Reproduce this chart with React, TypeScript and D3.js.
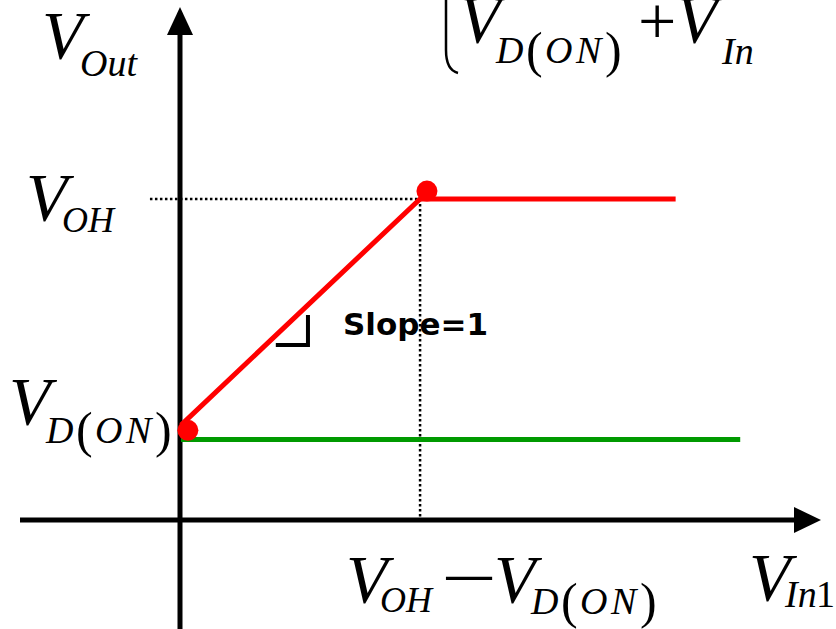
import React from "react";
import * as d3 from "d3";

// Transfer characteristic of a diode clamp (values in volts, arbitrary scale)
const inputBreaks = [0, 1.74, 3.6]; // V_In at start, knee, end of output trace
const outputBreaks = [0.73, 2.47, 2.47]; // V_Out at the same points
const diodeLevelX = [0, 4.07];
const diodeLevel = 0.62; // V_D(ON) trace
const kneeMarkers = [
  { x: 0.05, y: 0.69 },
  { x: 1.79, y: 2.53 },
];
const slopeMark = { x0: 0.69, x1: 0.924, y0: 1.346, y1: 1.577 };
const slopeText = "Slope=1";

const W = 836;
const H = 629;
const ORIGIN = { x: 181, y: 520 };

const serif = "'Liberation Serif', 'Times New Roman', serif";

type Piece = {
  t: string;
  x: number;
  y: number;
  size: number;
  italic?: boolean;
  len?: number;
};

function MathLabel({ pieces }: { pieces: Piece[] }) {
  return (
    <g>
      {pieces.map((p, i) => (
        <text
          key={i}
          x={p.x}
          y={p.y}
          fontFamily={serif}
          fontSize={p.size}
          fontStyle={p.italic ? "italic" : "normal"}
          fill="#000"
          textLength={p.len}
          lengthAdjust={p.len ? "spacingAndGlyphs" : undefined}
        >
          {p.t}
        </text>
      ))}
    </g>
  );
}

const BIG = 68;
const SUB = 38;
const PAR = 50;

function subDON(x: number, y: number): Piece[] {
  return [
    { t: "D", x: x, y, size: SUB, italic: true },
    { t: "(", x: x + 30, y: y + 4, size: PAR },
    { t: "O", x: x + 49, y, size: SUB, italic: true },
    { t: "N", x: x + 80, y, size: SUB, italic: true },
    { t: ")", x: x + 109, y: y + 4, size: PAR },
  ];
}

export default function App() {
  const x = d3.scaleLinear().domain([0, 1]).range([ORIGIN.x, ORIGIN.x + 137.4]);
  const y = d3.scaleLinear().domain([0, 1]).range([ORIGIN.y, ORIGIN.y - 130]);

  const line = d3
    .line<number>()
    .x((_, i) => x(inputBreaks[i]))
    .y((d) => y(d));

  const kneeX = inputBreaks[1];
  const kneeY = outputBreaks[1];

  const labels: Piece[][] = [
    // V_Out
    [
      { t: "V", x: 42, y: 58, size: BIG, italic: true },
      { t: "Out", x: 80, y: 76, size: SUB, italic: true },
    ],
    // V_OH
    [
      { t: "V", x: 26, y: 220, size: BIG, italic: true },
      { t: "OH", x: 62, y: 232, size: 36, italic: true },
    ],
    // V_D(ON)
    [{ t: "V", x: 9, y: 424, size: BIG, italic: true }, ...subDON(46, 443)],
    // V_OH - V_D(ON)
    [
      { t: "V", x: 346, y: 602, size: BIG, italic: true },
      { t: "OH", x: 380, y: 612, size: 36, italic: true },
      { t: "\u2212", x: 441, y: 601, size: BIG, len: 56 },
      { t: "V", x: 494, y: 602, size: BIG, italic: true },
      ...subDON(531, 614),
    ],
    // V_In1
    [
      { t: "V", x: 749, y: 600, size: BIG, italic: true },
      { t: "In", x: 785, y: 607, size: SUB, italic: true },
      { t: "1", x: 816, y: 607, size: SUB },
    ],
    // V_D(ON) + V_In
    [
      { t: "V", x: 459, y: 42, size: BIG, italic: true },
      ...subDON(496, 63),
      { t: "+", x: 638, y: 44, size: BIG },
      { t: "V", x: 676, y: 42, size: BIG, italic: true },
      { t: "In", x: 722, y: 64, size: SUB, italic: true },
    ],
  ];

  return (
    <svg
      width={W}
      height={H}
      style={{ position: "absolute", left: 0, top: 0, background: "#fff" }}
    >
      <rect width={W} height={H} fill="#fff" />

      {/* guide lines to the knee */}
      <g stroke="#000" strokeWidth={2.5} strokeDasharray="2.5 2.5" fill="none">
        <line x1={x(-0.226)} x2={x(kneeX)} y1={y(kneeY)} y2={y(kneeY)} />
        <line x1={x(kneeX)} x2={x(kneeX)} y1={y(kneeY)} y2={y(0)} />
      </g>

      {/* axes */}
      <g stroke="#000" strokeWidth={5}>
        <line x1={ORIGIN.x - 1} x2={ORIGIN.x - 1} y1={H + 2} y2={30} />
        <line x1={20} x2={798} y1={ORIGIN.y} y2={ORIGIN.y} />
      </g>
      <path
        d={`M${ORIGIN.x - 1},7 L${ORIGIN.x + 12},35 L${ORIGIN.x - 14},35 Z`}
        fill="#000"
      />
      <path
        d={`M821,${ORIGIN.y} L794,${ORIGIN.y - 13} L794,${ORIGIN.y + 13} Z`}
        fill="#000"
      />

      {/* diode trace */}
      <line
        x1={x(diodeLevelX[0])}
        x2={x(diodeLevelX[1])}
        y1={y(diodeLevel)}
        y2={y(diodeLevel)}
        stroke="#009a00"
        strokeWidth={5}
      />

      {/* output trace */}
      <path
        d={line(outputBreaks) || ""}
        fill="none"
        stroke="#ff0000"
        strokeWidth={5}
        strokeLinejoin="miter"
      />
      {kneeMarkers.map((m, i) => (
        <circle key={i} cx={x(m.x)} cy={y(m.y)} r={10.5} fill="#ff0000" />
      ))}

      {/* slope marker */}
      <path
        d={`M${x(slopeMark.x0)},${y(slopeMark.y0)} L${x(slopeMark.x1)},${y(
          slopeMark.y0
        )} L${x(slopeMark.x1)},${y(slopeMark.y1)}`}
        fill="none"
        stroke="#000"
        strokeWidth={4}
      />
      <text
        x={343}
        y={335}
        fontFamily="'DejaVu Sans', Verdana, sans-serif"
        fontWeight="bold"
        fontSize={31}
        fill="#000"
      >
        {slopeText}
      </text>

      {/* lower hook of the piecewise brace above the plot */}
      <path
        d="M446,0 L446,50 Q446,70 458,73"
        fill="none"
        stroke="#000"
        strokeWidth={2.5}
      />

      {labels.map((p, i) => (
        <MathLabel key={i} pieces={p} />
      ))}
    </svg>
  );
}
